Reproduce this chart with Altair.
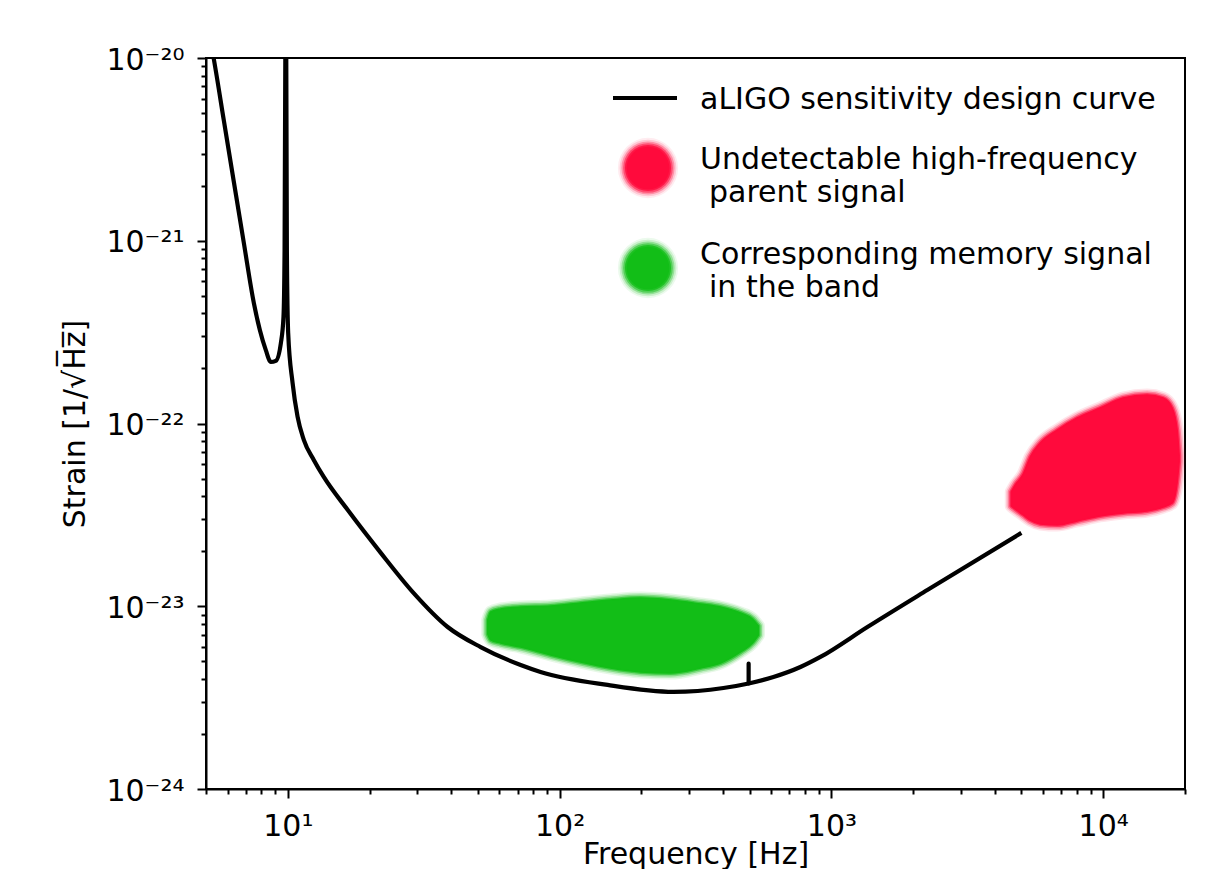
import altair as alt
import pandas as pd

# ---------------- data ----------------
freq = [5.0, 5.35, 5.82, 6.33, 6.89, 7.50, 7.89, 8.30, 8.66, 9.03, 9.43, 9.64, 9.73, 9.79, 9.83,
        9.87, 9.92, 10.03, 10.41, 10.86, 11.45, 12.46, 13.56, 16.62, 21.98, 29.05, 38.74, 51.23,
        71.9, 85.1, 150.2, 262.5, 400.7, 496.0, 612.0, 769.1, 911.1, 1356.7, 2254.0, 5000.0]
strain = [1.68e-20, 9.75e-21, 4.52e-21, 2.10e-21, 9.72e-22, 4.56e-22, 3.25e-22, 2.52e-22, 2.17e-22,
          2.20e-22, 2.76e-22, 3.83e-22, 8.9e-22, 9.75e-21, 1.0e-18,
          9.75e-21, 8.9e-22, 3.13e-22, 1.67e-22, 1.09e-22, 8.13e-23, 6.32e-23, 5.10e-23, 3.36e-23,
          1.96e-23, 1.18e-23, 7.70e-24, 5.98e-24,
          4.77e-24, 4.37e-24, 3.71e-24, 3.40e-24, 3.57e-24, 3.78e-24, 4.10e-24, 4.65e-24,
          5.28e-24, 7.70e-24, 1.227e-23, 2.52e-23]

# narrow line feature near 500 Hz
stub_f = [496.0, 496.0]
stub_h = [3.78e-24, 4.85e-24]

red_f = [4590, 4748, 5080, 5390, 5868, 6775, 8024, 9750, 11844, 14510, 16620, 17940, 18720, 19030]
red_top = [4.22e-23, 4.61e-23, 5.29e-23, 6.56e-23, 7.82e-23, 9.21e-23, 1.072e-22, 1.216e-22,
           1.378e-22, 1.432e-22, 1.378e-22, 1.216e-22, 9.21e-23, 6.73e-23]
red_bot = [3.54e-23, 3.40e-23, 3.16e-23, 2.96e-23, 2.82e-23, 2.78e-23, 2.93e-23, 3.12e-23,
           3.24e-23, 3.32e-23, 3.49e-23, 3.67e-23, 4.78e-23, 6.16e-23]

green_f = [54.4, 55.8, 60.7, 71.9, 92.7, 119.5, 154.0, 198.6, 255.9, 329.9, 390.8, 463.0, 512.3, 539.0]
green_top = [8.41e-24, 9.30e-24, 9.66e-24, 9.91e-24, 1.003e-23, 1.042e-23, 1.082e-23, 1.109e-23,
             1.082e-23, 1.029e-23, 9.91e-24, 9.19e-24, 8.52e-24, 7.79e-24]
green_bot = [7.05e-24, 6.54e-24, 6.29e-24, 5.98e-24, 5.41e-24, 4.95e-24, 4.59e-24, 4.37e-24,
             4.31e-24, 4.59e-24, 4.89e-24, 5.62e-24, 6.29e-24, 6.96e-24]

x_ticks = [5, 6, 7, 8, 9, 10, 20, 30, 40, 50, 60, 70, 80, 90, 100, 200, 300, 400, 500, 600,
           700, 800, 900, 1000, 2000, 3000, 4000, 5000, 6000, 7000, 8000, 9000, 10000, 20000]
x_major = [10, 100, 1000, 10000]
x_major_labels = ["10¹", "10²", "10³", "10⁴"]

y_ticks = [float(f"{k}e{e}") for e in (-24, -23, -22, -21) for k in range(1, 10)] + [1e-20]
y_major = [1e-24, 1e-23, 1e-22, 1e-21, 1e-20]
y_major_labels = ["10⁻²⁴", "10⁻²³", "10⁻²²", "10⁻²¹", "10⁻²⁰"]

legend_labels = [["aLIGO sensitivity design curve"],
                 ["Undetectable high-frequency", "parent signal"],
                 ["Corresponding memory signal", "in the band"]]

RED = "#ff0a3c"
GREEN = "#12be17"
FONT = "DejaVu Sans"
FS = 30

W, H = 979, 731


def is_major(vals):
    return " || ".join(f"abs(datum.value / {v!r} - 1) < 1e-6" for v in vals)


def label_expr(vals, labels):
    parts = [f"abs(datum.value / {v!r} - 1) < 1e-6 ? '{l}'" for v, l in zip(vals, labels)]
    return " : ".join(parts) + " : ''"


x_enc_axis = alt.Axis(
    values=x_ticks, labelExpr=label_expr(x_major, x_major_labels),
    tickSize={"condition": {"test": is_major(x_major), "value": 9}, "value": 5},
    labelOverlap=False, labelFlush=False, labelBound=False, grid=False,
    labelFontSize=FS, labelFont=FONT, labelColor="black", labelPadding=13,
    title="Frequency [Hz]", titleFontSize=FS, titleFont=FONT, titleFontWeight="normal",
    titleColor="black", titleX=W / 2, titleY=74, titleAlign="center", titleBaseline="alphabetic",
)
y_enc_axis = alt.Axis(
    values=y_ticks, labelExpr=label_expr(y_major, y_major_labels),
    tickSize={"condition": {"test": is_major(y_major), "value": 9}, "value": 5},
    labelOverlap=False, labelFlush=False, labelBound=False, grid=False,
    labelFontSize=FS, labelFont=FONT, labelColor="black", labelPadding=13, labelOffset=2,
    title="Strain [1/√H̅z̅]", titleFontSize=FS, titleFont=FONT, titleFontWeight="normal",
    titleColor="black", titleX=-131, titleY=H / 2, titleAngle=270, titleAlign="center",
    titleBaseline="middle",
)

xs = alt.Scale(type="log", domain=[5, 20000], nice=False)
ys = alt.Scale(type="log", domain=[1e-24, 1e-20], nice=False)

curve_df = pd.DataFrame({"f": freq, "h": strain})
stub_df = pd.DataFrame({"f": stub_f, "h": stub_h})
red_df = pd.DataFrame({"f": red_f, "top": red_top, "bot": red_bot})
green_df = pd.DataFrame({"f": green_f, "top": green_top, "bot": green_bot})


def blob(df, color):
    base = alt.Chart(df)
    enc = dict(x=alt.X("f:Q", scale=xs, axis=x_enc_axis),
               y=alt.Y("top:Q", scale=ys, axis=y_enc_axis),
               y2="bot:Q")
    layers = []
    for sw, so in [(13, 0.10), (10, 0.18), (7, 0.35), (4, 0.6)]:
        layers.append(base.mark_area(interpolate="monotone", fill=color, fillOpacity=0,
                                     stroke=color, strokeWidth=sw, strokeOpacity=so,
                                     strokeJoin="round").encode(**enc))
    layers.append(base.mark_area(interpolate="monotone", fill=color, fillOpacity=1,
                                 stroke=color, strokeWidth=1.5, strokeJoin="round").encode(**enc))
    return alt.layer(*layers)


curve = alt.Chart(curve_df).mark_line(color="black", strokeWidth=4.2, clip=True,
                                      interpolate="monotone").encode(
    x=alt.X("f:Q", scale=xs, axis=x_enc_axis),
    y=alt.Y("h:Q", scale=ys, axis=y_enc_axis),
)
stub = alt.Chart(stub_df).mark_line(color="black", strokeWidth=4.2, strokeCap="round").encode(
    x=alt.X("f:Q", scale=xs, axis=x_enc_axis),
    y=alt.Y("h:Q", scale=ys, axis=y_enc_axis),
)

one = pd.DataFrame({"k": [0]})


def legend_dot(cx, cy, color):
    layers = []
    for r, op in [(34, 0.08), (32, 0.15), (30, 0.3), (28, 0.5), (26, 0.8), (24, 1.0)]:
        layers.append(alt.Chart(one).mark_circle(color=color, opacity=op, size=3.1416 * r * r).encode(
            x=alt.value(cx), y=alt.value(cy)))
    return alt.layer(*layers)


def legend_text(px, py, txt):
    return alt.Chart(one).mark_text(align="left", baseline="alphabetic", fontSize=FS, font=FONT,
                                    color="black").encode(
        x=alt.value(px), y=alt.value(py), text=alt.value(txt))


leg_line = alt.Chart(one).mark_rule(color="black", strokeWidth=4.2).encode(
    x=alt.value(407), x2=alt.value(471), y=alt.value(40))

legend = alt.layer(
    leg_line,
    legend_text(494, 51, legend_labels[0][0]),
    legend_dot(442, 110, RED),
    legend_text(494, 111, legend_labels[1][0]),
    legend_text(503, 144, legend_labels[1][1]),
    legend_dot(442, 210, GREEN),
    legend_text(494, 206, legend_labels[2][0]),
    legend_text(503, 239, legend_labels[2][1]),
)

chart = alt.layer(
    blob(green_df, GREEN),
    blob(red_df, RED),
    curve,
    stub,
    legend,
).properties(
    width=W, height=H,
    autosize=alt.AutoSizeParams(type="none"),
    padding={"left": 198, "top": 50, "right": 15, "bottom": 80},
).configure_view(
    stroke="black", strokeWidth=2,
).configure_axis(
    domainColor="black", domainWidth=2, tickColor="black", tickWidth=2,
)

chart.save("out.html", embed_options={"renderer": "svg", "actions": False})
